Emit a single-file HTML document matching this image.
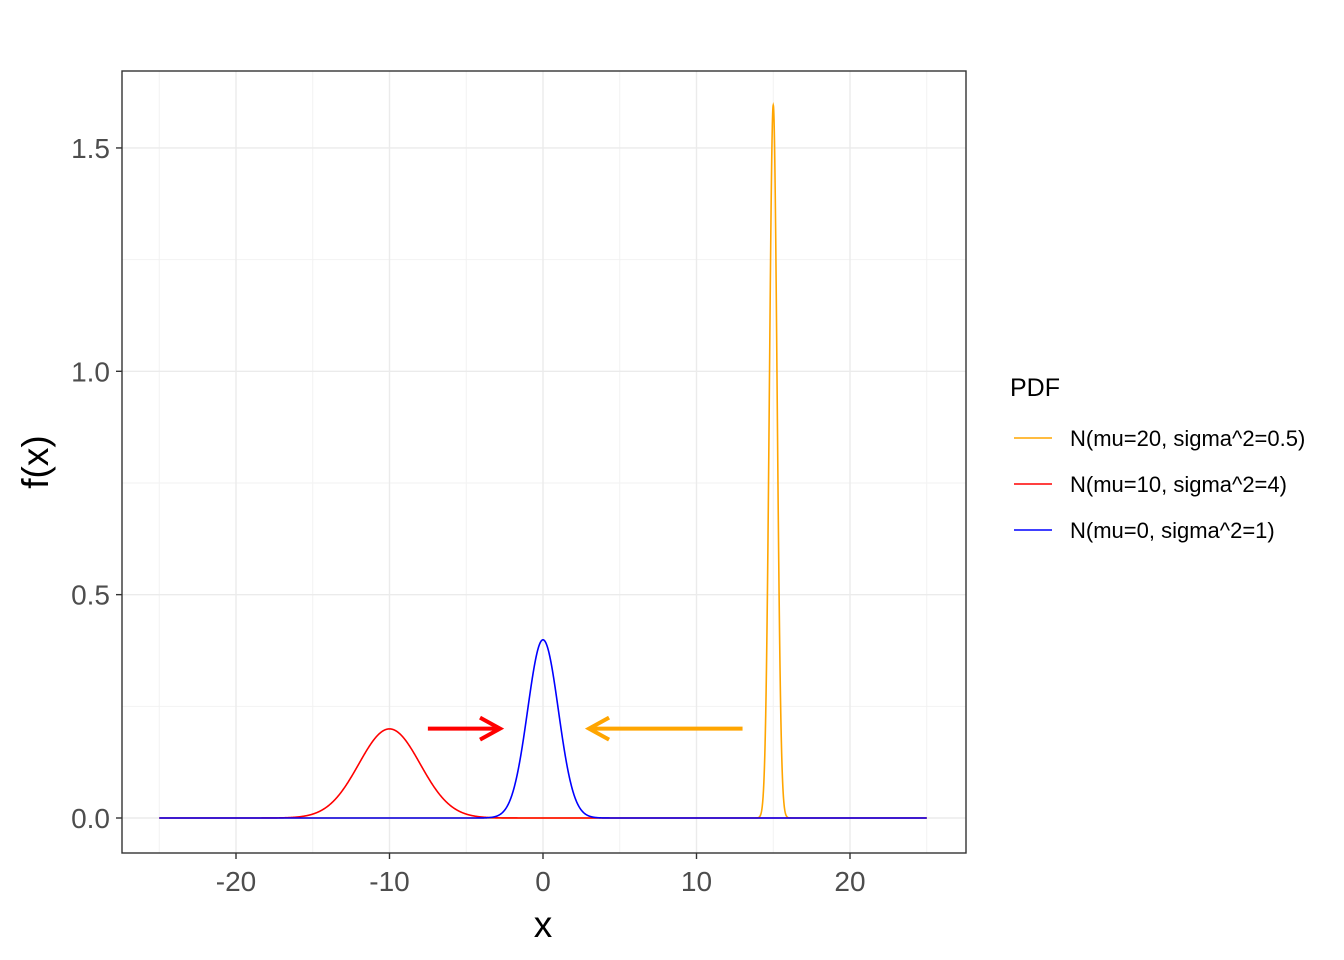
<!DOCTYPE html>
<html><head><meta charset="utf-8"><style>
html,body{margin:0;padding:0;background:#fff;}
svg{display:block;font-family:"Liberation Sans",Arial,sans-serif;}
</style></head><body>
<svg id="chart" width="1344" height="960"></svg>
<script>
const xTicks=[-20,-10,0,10,20];
const xMinor=[-25,-15,-5,5,15,25];
const yTicks=[0,0.5,1.0,1.5];
const yTickLabels=["0.0","0.5","1.0","1.5"];
const yMinor=[0.25,0.75,1.25];
const seriesNames=["N(mu=20, sigma^2=0.5)","N(mu=10, sigma^2=4)","N(mu=0, sigma^2=1)"];
const seriesColors=["#FFA500","#FF0000","#0000FF"];
const seriesMu=[15,-10,0];
const seriesSd=[0.25,2,1];
const xRange=[-25,25];
const arrowRed=[-7.5,-2.8,0.2];
const arrowOrange=[13,3,0.2];

const NS="http://www.w3.org/2000/svg";
const svg=document.getElementById('chart');
const P={l:122,r:966,t:71,b:853};
const X=v=>543+v*15.35;
const Y=v=>818-v*446.7;
function el(tag,attrs,parent){const e=document.createElementNS(NS,tag);for(const k in attrs)e.setAttribute(k,attrs[k]);(parent||svg).appendChild(e);return e;}

const grid=el('g',{});


xMinor.forEach(v=>{const x=X(v);if(x>P.l&&x<P.r)el('line',{x1:x,x2:x,y1:P.t,y2:P.b,stroke:'#f2f2f2','stroke-width':1},grid);});
yMinor.forEach(v=>el('line',{x1:P.l,x2:P.r,y1:Y(v),y2:Y(v),stroke:'#f2f2f2','stroke-width':1},grid));
xTicks.forEach(v=>el('line',{x1:X(v),x2:X(v),y1:P.t,y2:P.b,stroke:'#ebebeb','stroke-width':1.4},grid));
yTicks.forEach(v=>el('line',{x1:P.l,x2:P.r,y1:Y(v),y2:Y(v),stroke:'#ebebeb','stroke-width':1.4},grid));

seriesMu.forEach((mu,i)=>{
  const sd=seriesSd[i];let d='';
  for(let k=0;k<=5000;k++){const x=xRange[0]+(xRange[1]-xRange[0])*k/5000;
    const y=Math.exp(-0.5*((x-mu)/sd)**2)/(sd*Math.sqrt(2*Math.PI));
    d+=(k?'L':'M')+X(x).toFixed(2)+','+Y(y).toFixed(2);}
  const p=el('path',{d:d,fill:'none',stroke:seriesColors[i],'stroke-width':1.6});
  
  
});

function arrow(a,color,name){
  const g=el('g',{});
  
  
  const x1=X(a[0]),x2=X(a[1]),y=Y(a[2]);const dir=Math.sign(x2-x1);
  el('line',{x1:x1,x2:x2,y1:y,y2:y,stroke:color,'stroke-width':4},g);
  el('polyline',{points:`${x2-dir*20},${y-11} ${x2},${y} ${x2-dir*20},${y+11}`,fill:'none',stroke:color,'stroke-width':4},g);
}
arrow(arrowRed,'#FF0000','red-arrow');
arrow(arrowOrange,'#FFA500','orange-arrow');

const border=el('rect',{x:P.l,y:P.t,width:P.r-P.l,height:P.b-P.t,fill:'none',stroke:'#333','stroke-width':1.4});



xTicks.forEach(v=>{
  el('line',{x1:X(v),x2:X(v),y1:P.b,y2:P.b+6,stroke:'#333','stroke-width':1.4});
  const t=el('text',{x:X(v),y:P.b+38,'text-anchor':'middle','font-size':28,fill:'#4d4d4d'});
  t.textContent=v;
  
  
});
yTicks.forEach((v,i)=>{
  el('line',{x1:P.l-6,x2:P.l,y1:Y(v),y2:Y(v),stroke:'#333','stroke-width':1.4});
  const t=el('text',{x:P.l-12,y:Y(v)+10,'text-anchor':'end','font-size':28,fill:'#4d4d4d'});
  t.textContent=yTickLabels[i];
  
  
});
const xt=el('text',{x:543,y:937,'text-anchor':'middle','font-size':37,fill:'#000'});
xt.textContent='x';


const yt=el('text',{x:0,y:0,'text-anchor':'middle','font-size':37,fill:'#000',transform:'translate(48,462) rotate(-90)'});
yt.textContent='f(x)';



const lg=el('g',{});


const lt=el('text',{x:1010,y:396,'font-size':25,fill:'#000'},lg);
lt.textContent='PDF';


seriesNames.forEach((n,i)=>{
  const y=438+i*46;
  const e=el('g',{},lg);
  
  
  el('line',{x1:1014,x2:1052,y1:y,y2:y,stroke:seriesColors[i],'stroke-width':1.6},e);
  const t=el('text',{x:1070,y:y+8,'font-size':22,fill:'#000'},e);
  t.textContent=n;
});
</script>
</body></html>
